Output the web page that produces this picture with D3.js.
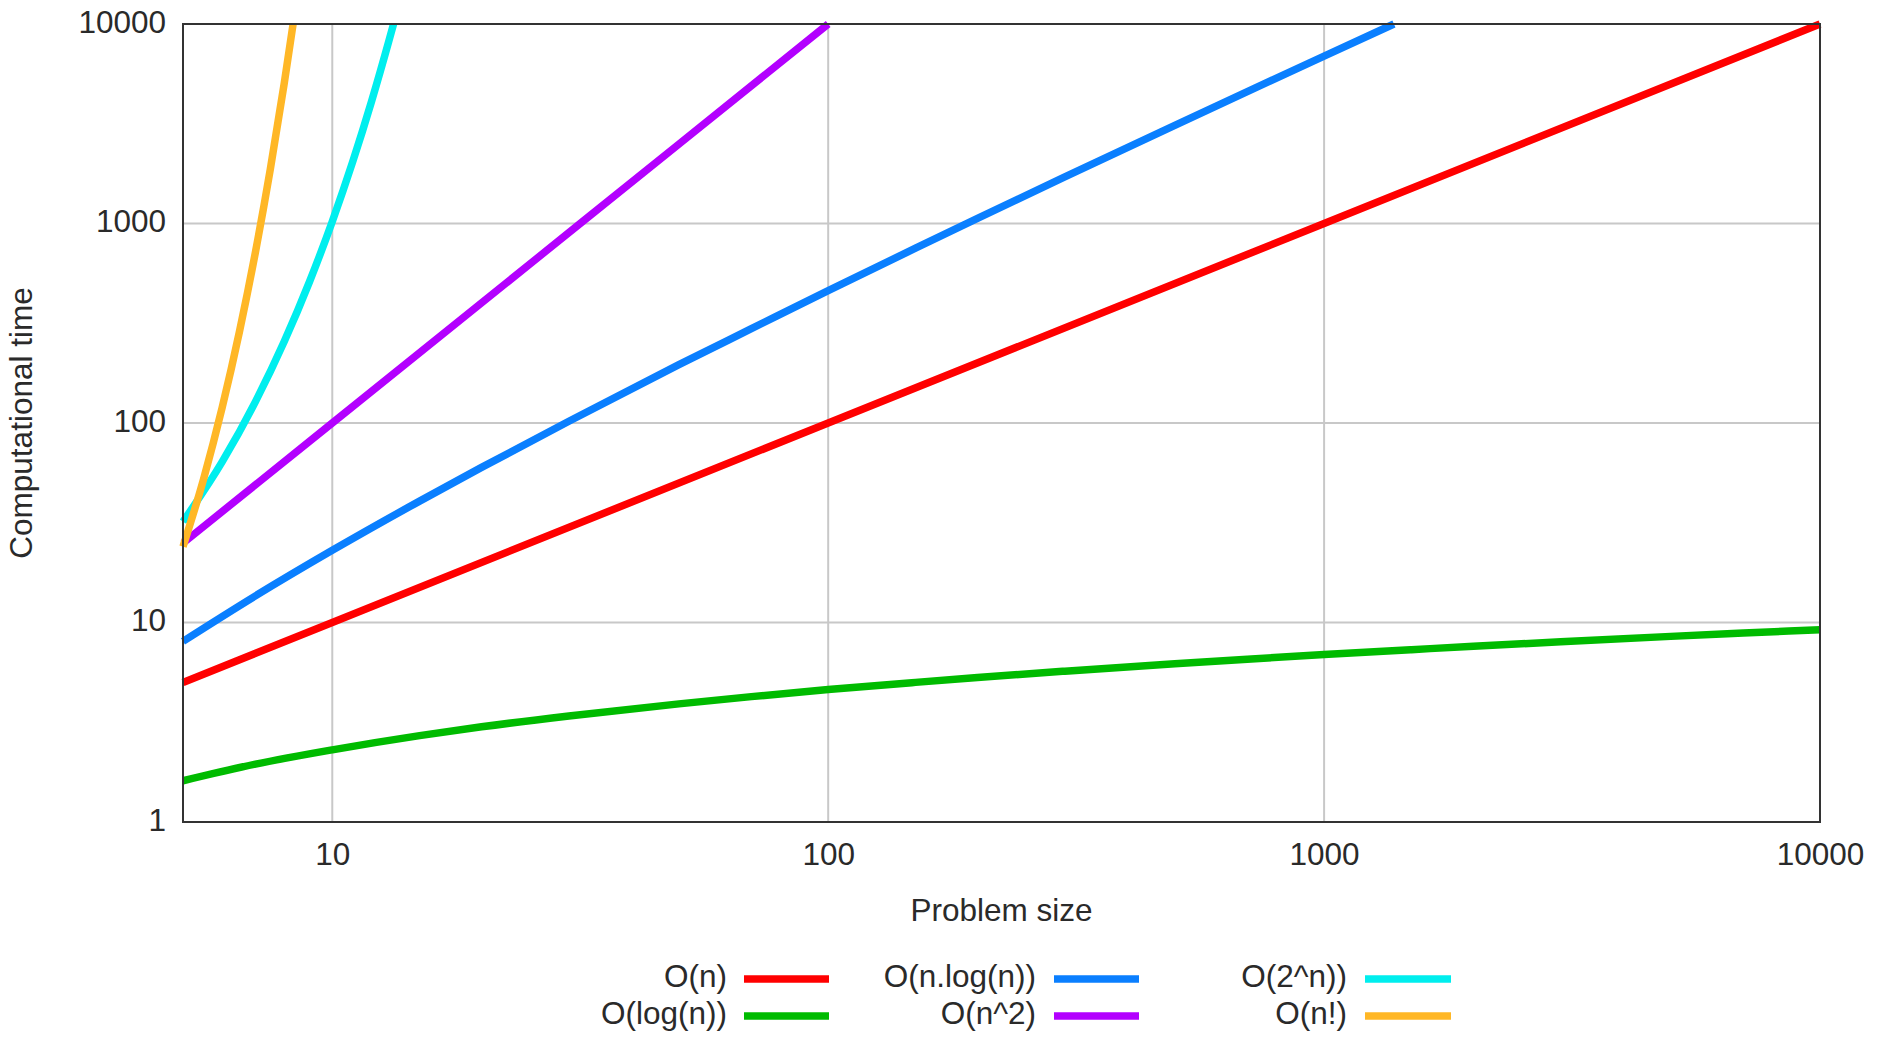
<!DOCTYPE html>
<html>
<head>
<meta charset="utf-8">
<script src="https://cdn.jsdelivr.net/npm/d3@7"></script>
<style>
  html, body { margin: 0; padding: 0; background: #fff; }
  svg { display: block; }
  text { font-family: "Liberation Sans", Arial, sans-serif; fill: #2a2a2a; }
</style>
</head>
<body>
<svg id="chart" width="1884" height="1038"></svg>
<script>
// ---- Data ----
const seriesNames = ["O(n)", "O(log(n))", "O(n.log(n))", "O(n^2)", "O(2^n))", "O(n!)"];
const seriesColors = ["#ff0000", "#00bb00", "#0a7fff", "#b300ff", "#00eeee", "#ffb726"];

const xLinear = [5, 10, 100, 1000, 10000];
const yLinear = [5, 10, 100, 1000, 10000];

const xLog = [5, 7, 10, 15, 20, 30, 50, 70, 100, 150, 200, 300, 500, 700, 1000, 1500, 2000, 3000, 5000, 7000, 10000];
const yLog = [1.61, 1.95, 2.30, 2.71, 3.00, 3.40, 3.91, 4.25, 4.61, 5.01, 5.30, 5.70, 6.21, 6.55, 6.91, 7.31, 7.60, 8.01, 8.52, 8.85, 9.21];

const xNLogN = [5, 7, 10, 15, 20, 30, 50, 70, 100, 150, 200, 300, 500, 700, 1000, 1383];
const yNLogN = [8.05, 13.6, 23.0, 40.6, 59.9, 102, 196, 297, 461, 752, 1060, 1711, 3107, 4586, 6908, 10000];

const xSquare = [5, 10, 20, 50, 100];
const ySquare = [25, 100, 400, 2500, 10000];

const xExp = [5, 6, 7, 8, 9, 10, 11, 12, 13, 13.29];
const yExp = [32, 64, 128, 256, 512, 1024, 2048, 4096, 8192, 10000];

const xFact = [5, 5.5, 6, 6.5, 7, 7.5, 8, 8.336];
const yFact = [24, 52.3, 120, 288, 720, 1871, 5040, 10000];

const xTicks = [10, 100, 1000, 10000];
const yTicks = [1, 10, 100, 1000, 10000];
const xTickLabels = ["10", "100", "1000", "10000"];
const yTickLabels = ["1", "10", "100", "1000", "10000"];
const xTitle = "Problem size";
const yTitle = "Computational time";

// ---- Layout ----
const FS = 31.5;
const plot = { left: 183, right: 1820, top: 24, bottom: 822 };

const svg = d3.select("#chart");

const x = d3.scaleLog().domain([5, 10000]).range([plot.left, plot.right]);
const y = d3.scaleLog().domain([1, 10000]).range([plot.bottom, plot.top]);

// grid
const grid = svg.append("g");
grid.selectAll("line.vg").data(xTicks.filter(d => d < 10000)).join("line")
  .attr("x1", d => x(d)).attr("x2", d => x(d))
  .attr("y1", plot.top).attr("y2", plot.bottom)
  .attr("stroke", "#c8c8c8").attr("stroke-width", 2);
grid.selectAll("line.hg").data(yTicks.filter(d => d > 1 && d < 10000)).join("line")
  .attr("x1", plot.left).attr("x2", plot.right)
  .attr("y1", d => y(d)).attr("y2", d => y(d))
  .attr("stroke", "#c8c8c8").attr("stroke-width", 2);

// axes (labels via d3 axes, domain/ticks hidden)
const xAxis = d3.axisBottom(x).tickValues(xTicks).tickFormat((d, i) => xTickLabels[i]).tickSize(0).tickPadding(0);
const gx = svg.append("g").attr("transform", `translate(0,${plot.bottom})`).call(xAxis);
gx.select(".domain").remove();
gx.selectAll("text").attr("font-size", FS).attr("dy", null).attr("y", 35)
  .attr("dominant-baseline", "middle").style("font-family", "Liberation Sans, Arial, sans-serif").attr("fill", "#2a2a2a");

const yAxis = d3.axisLeft(y).tickValues(yTicks).tickFormat((d, i) => yTickLabels[i]).tickSize(0).tickPadding(0);
const gy = svg.append("g").attr("transform", `translate(${plot.left},0)`).call(yAxis);
gy.select(".domain").remove();
gy.selectAll("text").attr("font-size", FS).attr("dy", null).attr("x", -17)
  .attr("dominant-baseline", "middle").style("font-family", "Liberation Sans, Arial, sans-serif").attr("fill", "#2a2a2a");

// series
const seriesData = [
  [xLinear, yLinear],
  [xLog, yLog],
  [xNLogN, yNLogN],
  [xSquare, ySquare],
  [xExp, yExp],
  [xFact, yFact]
];
const line = d3.line().x(d => x(d[0])).y(d => y(d[1])).curve(d3.curveMonotoneX);

seriesData.forEach((s, i) => {
  const pts = s[0].map((xv, j) => [xv, s[1][j]]);
  svg.append("path").datum(pts)
    .attr("d", line)
    .attr("fill", "none")
    .attr("stroke", seriesColors[i])
    .attr("stroke-width", 7.5)
    .attr("stroke-linejoin", "round");
});

// frame
svg.append("rect")
  .attr("x", plot.left).attr("y", plot.top)
  .attr("width", plot.right - plot.left).attr("height", plot.bottom - plot.top)
  .attr("fill", "none").attr("stroke", "#333").attr("stroke-width", 2);

// titles
svg.append("text").attr("x", (plot.left + plot.right) / 2).attr("y", 913)
  .attr("text-anchor", "middle").attr("dominant-baseline", "middle")
  .attr("font-size", FS).text(xTitle);
svg.append("text").attr("transform", `translate(24,${(plot.top + plot.bottom) / 2}) rotate(-90)`)
  .attr("text-anchor", "middle").attr("dominant-baseline", "middle")
  .attr("font-size", FS).text(yTitle);

// legend (column-major, 3 columns x 2 rows)
const legCols = [{ tx: 727, l1: 744, l2: 829 }, { tx: 1036, l1: 1054, l2: 1139 }, { tx: 1347, l1: 1365, l2: 1451 }];
const legRows = [979, 1016];
seriesNames.forEach((name, i) => {
  const c = legCols[Math.floor(i / 2)], r = legRows[i % 2];
  const g = svg.append("g");
  g.append("text").attr("x", c.tx).attr("y", r).attr("text-anchor", "end")
    .attr("dominant-baseline", "middle").attr("font-size", FS).text(name);
  g.append("line").attr("x1", c.l1).attr("x2", c.l2).attr("y1", r).attr("y2", r)
    .attr("stroke", seriesColors[i]).attr("stroke-width", 7.5);
});
</script>
</body>
</html>
